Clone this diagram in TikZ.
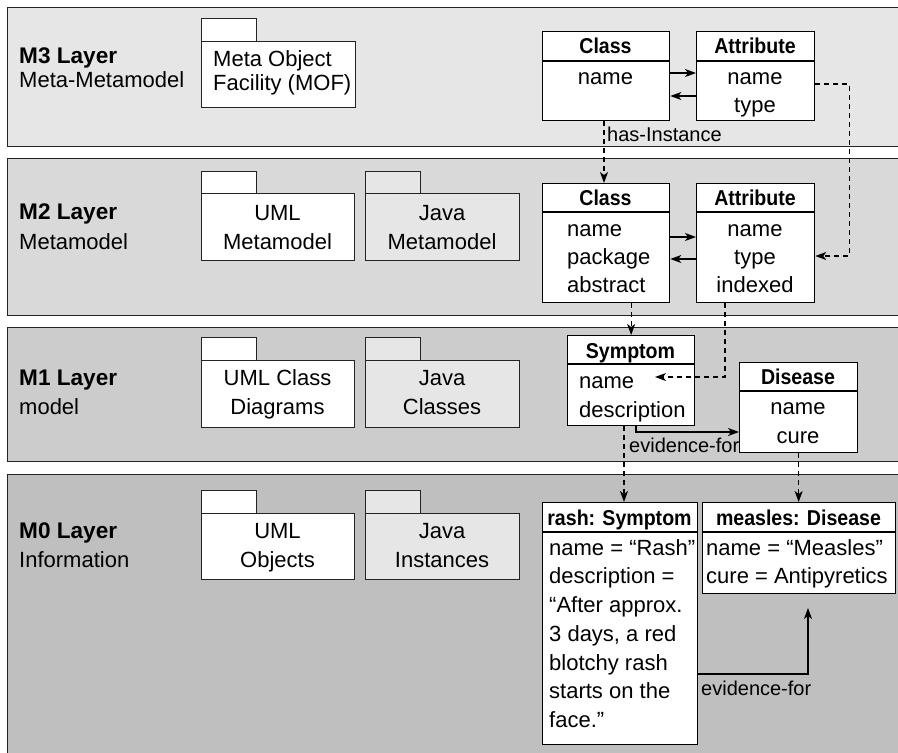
\documentclass[tikz,border=0pt]{standalone}
\usepackage{fontspec}
\setmainfont{Liberation Sans}
\newfontfamily\hdrfont[FakeStretch=0.91]{Liberation Sans}
\usetikzlibrary{arrows.meta}
\definecolor{mthree}{RGB}{230,230,230}
\definecolor{mtwo}{RGB}{217,217,217}
\definecolor{mone}{RGB}{204,204,204}
\definecolor{mzero}{RGB}{191,191,191}
\definecolor{javafill}{RGB}{230,230,230}
\definecolor{edge}{RGB}{35,35,35}
\tikzset{
  band/.style={draw=edge, line width=1.4pt, anchor=north west, inner sep=0pt, minimum width=900pt},
  pkg/.style={draw=edge, line width=1.2pt, anchor=north west, inner sep=0pt, fill=white},
  jpkg/.style={pkg, fill=javafill},
  umlbox/.style={draw=black, line width=1.3pt, anchor=north west, inner sep=0pt, fill=white},
  txt/.style={inner sep=0pt, font=\fontsize{22}{26}\selectfont},
  lbl/.style={inner sep=0pt, font=\fontsize{22.6}{26}\selectfont\bfseries},
  hdr/.style={inner sep=0pt, font=\hdrfont\bfseries\fontsize{21.5}{26}\selectfont},
  sml/.style={inner sep=0pt, font=\fontsize{20}{24}\selectfont},
  conn/.style={line width=1.2pt, -{Stealth[length=11pt,width=8pt,inset=3pt]}},
  dconn/.style={conn, dash pattern=on 5pt off 4pt},
}
\begin{document}
\begin{tikzpicture}[x=1pt,y=-1pt]
\clip (0,0) rectangle (898,753);
\fill[white] (0,0) rectangle (898,753);
% layer bands
\node[band, fill=mthree, minimum height=139pt] (L3) at (7,7) {};
\node[band, fill=mtwo, minimum height=157pt] (L2) at (7,158) {};
\node[band, fill=mone, minimum height=134pt] (L1) at (7,327) {};
\node[band, fill=mzero, minimum height=300pt] (L0) at (7,474) {};
% layer labels
\node[lbl, anchor=base west] (t3a) at (19,63) {M3 Layer};
\node[txt, anchor=base west] (t3b) at (19,87) {Meta-Metamodel};
\node[lbl, anchor=base west] (t2a) at (19,219) {M2 Layer};
\node[txt, anchor=base west] (t2b) at (19,249) {Metamodel};
\node[lbl, anchor=base west] (t1a) at (19,385) {M1 Layer};
\node[txt, anchor=base west] (t1b) at (19,414) {model};
\node[lbl, anchor=base west] (t0a) at (19,538) {M0 Layer};
\node[txt, anchor=base west] (t0b) at (19,567) {Information};
% packages M3
\node[pkg, minimum width=55pt, minimum height=23pt] (mofT) at (201,18) {};
\node[pkg, minimum width=154pt, minimum height=66pt] (mof) at (201,41) {};
\node[txt, anchor=base west] (mof1) at (213,66) {Meta Object};
\node[txt, anchor=base west] (mof2) at (213,90) {Facility (MOF)};
% packages M2
\node[pkg, minimum width=55pt, minimum height=22pt] (u2T) at (201,171) {};
\node[pkg, minimum width=153pt, minimum height=67pt] (u2) at (201,193) {};
\node[txt, anchor=base] (u2a) at (277.5,220) {UML};
\node[txt, anchor=base] (u2b) at (277.5,249) {Metamodel};
\node[jpkg, minimum width=55pt, minimum height=22pt] (j2T) at (365,171) {};
\node[jpkg, minimum width=154pt, minimum height=67pt] (j2) at (365,193) {};
\node[txt, anchor=base] (j2a) at (442,220) {Java};
\node[txt, anchor=base] (j2b) at (442,249) {Metamodel};
% packages M1
\node[pkg, minimum width=55pt, minimum height=23pt] (u1T) at (201,337) {};
\node[pkg, minimum width=153pt, minimum height=67pt] (u1) at (201,360) {};
\node[txt, anchor=base] (u1a) at (277.5,385) {UML Class};
\node[txt, anchor=base] (u1b) at (277.5,414) {Diagrams};
\node[jpkg, minimum width=55pt, minimum height=23pt] (j1T) at (365,337) {};
\node[jpkg, minimum width=154pt, minimum height=67pt] (j1) at (365,360) {};
\node[txt, anchor=base] (j1a) at (442,385) {Java};
\node[txt, anchor=base] (j1b) at (442,414) {Classes};
% packages M0
\node[pkg, minimum width=55pt, minimum height=23pt] (u0T) at (201,490) {};
\node[pkg, minimum width=153pt, minimum height=66pt] (u0) at (201,513) {};
\node[txt, anchor=base] (u0a) at (277.5,538) {UML};
\node[txt, anchor=base] (u0b) at (277.5,567) {Objects};
\node[jpkg, minimum width=55pt, minimum height=23pt] (j0T) at (365,490) {};
\node[jpkg, minimum width=154pt, minimum height=66pt] (j0) at (365,513) {};
\node[txt, anchor=base] (j0a) at (442,538) {Java};
\node[txt, anchor=base] (j0b) at (442,567) {Instances};
% M3 classes
\node[umlbox, minimum width=127pt, minimum height=89pt] (c3) at (542,31) {};
\draw[line width=1.3pt] (c3.west |- 0,61) -- (c3.east |- 0,61);
\node[hdr, anchor=base] (c3h) at (605.5,53) {Class};
\node[txt, anchor=base] (c3n) at (605.5,84) {name};
\node[umlbox, minimum width=118pt, minimum height=89pt] (a3) at (696,31) {};
\draw[line width=1.3pt] (a3.west |- 0,61) -- (a3.east |- 0,61);
\node[hdr, anchor=base] (a3h) at (755,53) {Attribute};
\node[txt, anchor=base] (a3n) at (755,84) {name};
\node[txt, anchor=base] (a3t) at (755,112) {type};
% M2 classes
\node[umlbox, minimum width=127pt, minimum height=119pt] (c2) at (542,183) {};
\draw[line width=1.3pt] (c2.west |- 0,212) -- (c2.east |- 0,212);
\node[hdr, anchor=base] (c2h) at (605.5,205) {Class};
\node[txt, anchor=base west] (c2n) at (567,236) {name};
\node[txt, anchor=base west] (c2p) at (567,264) {package};
\node[txt, anchor=base west] (c2a) at (567,292) {abstract};
\node[umlbox, minimum width=118pt, minimum height=119pt] (a2) at (696,183) {};
\draw[line width=1.3pt] (a2.west |- 0,212) -- (a2.east |- 0,212);
\node[hdr, anchor=base] (a2h) at (755,205) {Attribute};
\node[txt, anchor=base] (a2n) at (755,236) {name};
\node[txt, anchor=base] (a2t) at (755,264) {type};
\node[txt, anchor=base] (a2i) at (755,292) {indexed};
% M1 classes
\node[umlbox, minimum width=127pt, minimum height=90pt] (sym) at (567,335) {};
\draw[line width=1.3pt] (sym.west |- 0,364) -- (sym.east |- 0,364);
\node[hdr, anchor=base] (symh) at (630.5,358) {Symptom};
\node[txt, anchor=base west] (symn) at (579,388) {name};
\node[txt, anchor=base west] (symd) at (579,417) {description};
\node[umlbox, minimum width=118pt, minimum height=90pt] (dis) at (739,362) {};
\draw[line width=1.3pt] (dis.west |- 0,391) -- (dis.east |- 0,391);
\node[hdr, anchor=base] (dish) at (798,384) {Disease};
\node[txt, anchor=base] (disn) at (798,414) {name};
\node[txt, anchor=base] (disc) at (798,443) {cure};
% M0 objects
\node[umlbox, minimum width=155pt, minimum height=242pt] (rash) at (542,502) {};
\draw[line width=1.3pt] (rash.west |- 0,532) -- (rash.east |- 0,532);
\node[hdr, anchor=base] (rashh) at (619.5,525) {rash: Symptom};
\node[txt, anchor=base west] (r1) at (549,555) {name = “Rash”};
\node[txt, anchor=base west] (r2) at (549,583) {description =};
\node[txt, anchor=base west] (r3) at (549,612) {“After approx.};
\node[txt, anchor=base west] (r4) at (549,641) {3 days, a red};
\node[txt, anchor=base west] (r5) at (549,670) {blotchy rash};
\node[txt, anchor=base west] (r6) at (549,698) {starts on the};
\node[txt, anchor=base west] (r7) at (549,727) {face.”};
\node[umlbox, minimum width=193pt, minimum height=91pt] (mea) at (702,502) {};
\draw[line width=1.3pt] (mea.west |- 0,532) -- (mea.east |- 0,532);
\node[hdr, anchor=base] (meah) at (798.5,525) {measles: Disease};
\node[txt, anchor=base west] (m1) at (706,555) {name = “Measles”};
\node[txt, anchor=base west] (m2) at (706,583) {cure = Antipyretics};
% connectors
\draw[conn] (c3.east |- 0,73) -- (a3.west |- 0,73);
\draw[conn] (a3.west |- 0,96) -- (c3.east |- 0,96);
\draw[conn] (c2.east |- 0,237) -- (a2.west |- 0,237);
\draw[conn] (a2.west |- 0,259) -- (c2.east |- 0,259);
\draw[dconn] (a3.east |- 0,84) -- ++(34,0) |- (a2.east |- 0,256);
\draw[dconn] (c3.south -| 604,0) -- (c2.north -| 604,0);
\node[sml, anchor=base west] (hasi) at (607,141) {has-Instance};
\draw[dconn] (sym.north |- c2.south) -- (sym.north);
\coordinate (symtip) at (655,377);
\draw[dconn] (a2.south -| 725,0) |- (symtip);
\draw[conn] (sym.south -| 636,0) |- (dis.west |- 0,432);
\node[sml, anchor=base west] (ev1) at (629,452) {evidence-for};
\draw[dconn] (sym.south -| 624,0) -- (rash.north -| 624,0);
\draw[dconn] (dis.south) -- (dis.south |- mea.north);
\coordinate (evtip) at (808,608);
\draw[conn] (rash.east |- 0,674) -| (evtip);
\node[sml, anchor=base west] (ev2) at (701,695) {evidence-for};
\end{tikzpicture}
\end{document}
